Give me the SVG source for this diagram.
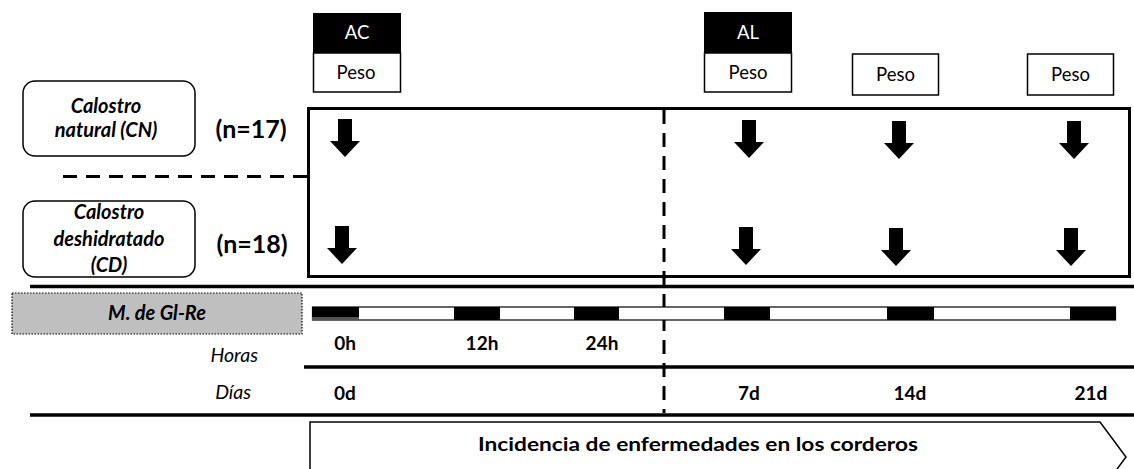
<svg xmlns="http://www.w3.org/2000/svg" xmlns:xlink="http://www.w3.org/1999/xlink" width="1134" height="469" viewBox="0 0 1134 469">
<style>
text{font-family:Lato,"Open Sans","DejaVu Sans",sans-serif;fill:#000}
.peso{font-size:18.5px;text-anchor:middle}
.hdr{font-size:18.5px;text-anchor:middle;fill:#fff}
.grp{font-size:20px;font-weight:bold;font-style:italic;text-anchor:middle}
.n{font-size:25px;font-weight:bold;text-anchor:middle}
.lab{font-size:19px;font-weight:bold;text-anchor:middle}
.it{font-size:19.5px;font-style:italic;text-anchor:end}
.box{fill:#fff;stroke:#000;stroke-width:1.5}
.thick{stroke:#000;stroke-width:3.5;fill:none}
.dash{stroke:#000;stroke-width:3;stroke-dasharray:14 9;fill:none}
</style>
<defs>
<path id="darr" d="M-7,0 H7 V22 H15 L0,38 L-15,22 H-7 Z" fill="#000"/>
</defs>
<rect width="1134" height="469" fill="#fff"/>

<g id="main-frame">
<rect x="308.5" y="108.5" width="821" height="168" fill="none" stroke="#000" stroke-width="3"/>
</g>

<g id="connectors">
<line class="dash" x1="63" y1="176.5" x2="307" y2="176.5"/>
<line class="dash" x1="664" y1="110" x2="664" y2="413"/>
<line class="thick" x1="30" y1="286.5" x2="1134" y2="286.5"/>
<line class="thick" x1="304" y1="367" x2="1134" y2="367"/>
<line class="thick" x1="30" y1="415" x2="1134" y2="415" stroke-width="4"/>
<use href="#darr" x="345" y="119"/>
<use href="#darr" x="749" y="120"/>
<use href="#darr" x="899" y="121"/>
<use href="#darr" x="1074" y="121"/>
<use href="#darr" x="342" y="226"/>
<use href="#darr" x="746" y="227"/>
<use href="#darr" x="896" y="228"/>
<use href="#darr" x="1071" y="228"/>
</g>

<g id="ac-peso">
<rect x="313" y="13" width="88" height="40" fill="#000"/>
<text class="hdr" x="357" y="39">AC</text>
<rect class="box" x="313.5" y="53" width="87" height="39"/>
<text class="peso" x="356" y="79">Peso</text>
</g>
<g id="al-peso">
<rect x="704" y="12" width="88" height="41" fill="#000"/>
<text class="hdr" x="748" y="39">AL</text>
<rect class="box" x="704.5" y="53" width="87" height="39"/>
<text class="peso" x="748" y="79">Peso</text>
</g>
<g id="peso-14">
<rect class="box" x="852.5" y="54" width="86" height="41"/>
<text class="peso" x="895.5" y="81">Peso</text>
</g>
<g id="peso-21">
<rect class="box" x="1027.5" y="54" width="86" height="41"/>
<text class="peso" x="1070.5" y="81">Peso</text>
</g>

<g id="grupo-cn">
<rect class="box" x="23" y="81" width="172" height="75" rx="12"/>
<text class="grp" x="106" y="113">Calostro</text>
<text class="grp" x="106" y="137">natural (CN)</text>
<text class="n" x="251" y="138">(n=17)</text>
</g>
<g id="grupo-cd">
<rect class="box" x="23" y="201" width="172" height="76" rx="12"/>
<text class="grp" x="109" y="219">Calostro</text>
<text class="grp" x="109" y="246">deshidratado</text>
<text class="grp" x="109" y="272">(CD)</text>
<text class="n" x="252" y="253">(n=18)</text>
</g>

<g id="mgl-re">
<rect x="12" y="293" width="290" height="41" fill="#bfbfbf" stroke="#000" stroke-width="1.2" stroke-dasharray="1.5 1.5"/>
<text class="grp" x="157" y="320" font-size="21">M. de Gl-Re</text>
</g>

<g id="timeline-bar">
<rect x="312.5" y="307" width="803" height="13" fill="#fff" stroke="#000" stroke-width="1.2"/>
<rect x="312" y="307" width="47" height="10" fill="#000"/>
<rect x="312" y="317" width="47" height="3" fill="#555"/>
<rect x="454" y="307" width="46" height="13" fill="#000"/>
<rect x="574" y="307" width="45" height="13" fill="#000"/>
<rect x="724" y="307" width="46" height="13" fill="#000"/>
<rect x="887" y="307" width="47" height="13" fill="#000"/>
<rect x="1070" y="307" width="46" height="13" fill="#000"/>
</g>

<g id="scale-labels">
<text class="it" x="258" y="362">Horas</text>
<text class="it" x="251" y="399">Días</text>
<text class="lab" x="345" y="350">0h</text>
<text class="lab" x="482" y="350">12h</text>
<text class="lab" x="602" y="350">24h</text>
<text class="lab" x="345" y="400">0d</text>
<text class="lab" x="749" y="400">7d</text>
<text class="lab" x="910" y="400">14d</text>
<text class="lab" x="1091" y="400">21d</text>
</g>

<g id="incidencia">
<path d="M310,492 V422 H1100 L1126,457 L1100,492" fill="#fff" stroke="#000" stroke-width="1.5"/>
<text class="lab" x="698" y="451" font-size="18" textLength="440" lengthAdjust="spacingAndGlyphs">Incidencia de enfermedades en los corderos</text>
</g>
</svg>
